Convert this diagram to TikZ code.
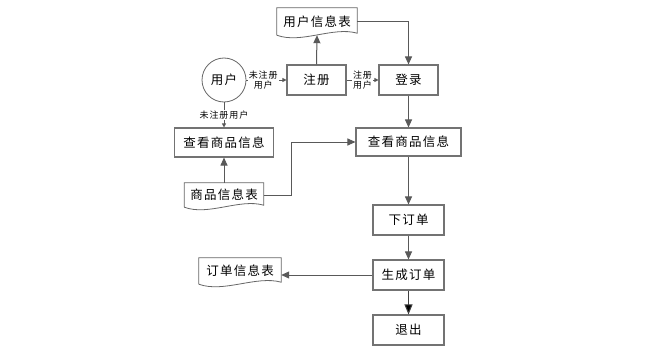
\documentclass[tikz,border=0pt]{standalone}
\usepackage{fontspec}
\newfontfamily\cjk[LetterSpace=10]{Noto Sans CJK SC}
\usetikzlibrary{arrows.meta,calc}
\newcommand\docshape[1]{\draw[docline] (#1.south west) -- (#1.north west) -- (#1.north east) -- ([yshift=2pt]#1.south east) .. controls ($(#1.south east)!0.3!(#1.south west)+(0,-9)$) and ($(#1.south east)!0.7!(#1.south west)+(0,9)$) .. (#1.south west);}
\begin{document}
\begin{tikzpicture}[x=1pt,y=-1pt,
  font=\cjk\fontsize{12.5}{15}\selectfont,
  box/.style={draw=black!55, line width=1.1pt, fill=white, inner sep=0},
  doc/.style={inner sep=0},
  docline/.style={draw=black!60, line width=0.8pt},
  flow/.style={draw=black!65, line width=1pt, -{Triangle[length=8pt,width=7pt]}},
  bigflow/.style={draw=black!75, line width=1pt, -{Triangle[length=10pt,width=8pt,fill=black]}},
  small/.style={draw=black!65, line width=0.8pt, -{Triangle[length=4pt,width=4pt]}},
  lbl/.style={font=\cjk\fontsize{9}{10.5}\selectfont, fill=white, inner sep=1pt, align=center}
]
\useasboundingbox (0,0) rectangle (647,353);

\node[circle, draw=black!60, line width=0.8pt, minimum size=44, inner sep=0] (user) at (224,80) {用户};
\node[box, minimum width=59, minimum height=30] (reg) at (316.5,80) {注册};
\node[box, minimum width=59, minimum height=30] (login) at (408.5,80) {登录};
\node[box, minimum width=99, minimum height=29] (viewL) at (224,142.5) {查看商品信息};
\node[box, minimum width=105, minimum height=28] (viewR) at (408.5,142) {查看商品信息};
\node[box, minimum width=71, minimum height=30] (order) at (408.5,220) {下订单};
\node[box, minimum width=71, minimum height=30] (gen) at (408.5,275) {生成订单};
\node[box, minimum width=71, minimum height=30] (exit) at (408.5,330) {退出};

\node[doc, minimum width=80, minimum height=27] (utab) at (317,21.5) {用户信息表};
\node[doc, minimum width=79, minimum height=24] (gtab) at (224,195) {商品信息表};
\node[doc, minimum width=82, minimum height=26] (otab) at (240,271) {订单信息表};
\docshape{utab}
\docshape{gtab}
\docshape{otab}

\draw[flow] (reg.north) -- (utab.south);
\draw[flow] (utab.east) -| (login.north);
\draw[small] (user.east) -- (reg.west) node[lbl, pos=0.42] {未注册\\用户};
\draw[small] (reg.east) -- (login.west) node[lbl, midway] {注册\\用户};
\draw[small] (user.south) -- (user.south |- viewL.north) node[lbl, midway] {未注册用户};
\draw[flow] (gtab.north) -- (gtab.north |- viewL.south);
\draw[flow] (gtab.east) -- ++(27.5,0) |- (viewR.west);
\draw[flow] (login.south) -- (viewR.north);
\draw[flow] (viewR.south) -- (order.north);
\draw[flow] (order.south) -- (gen.north);
\draw[bigflow] (gen.south) -- (exit.north);
\draw[flow] (gen.west) -- (gen.west -| otab.east);
\end{tikzpicture}
\end{document}
